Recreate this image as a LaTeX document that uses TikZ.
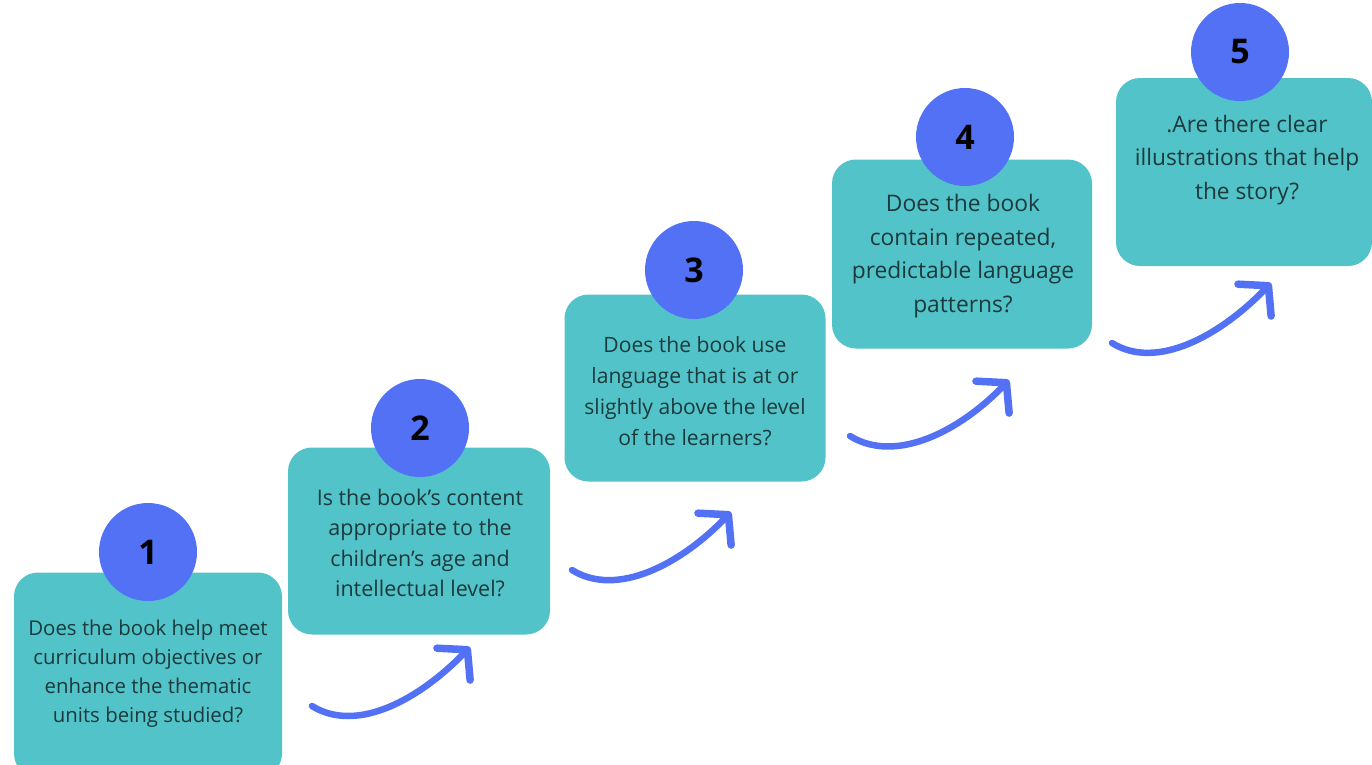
\documentclass[tikz,border=0pt]{standalone}
\usepackage{fontspec}
\setmainfont{Open Sans}
\usetikzlibrary{arrows.meta}
\definecolor{tealbox}{RGB}{82,195,201}
\definecolor{bluenum}{RGB}{82,113,245}
\definecolor{txt}{RGB}{28,58,60}
\begin{document}
\begin{tikzpicture}[x=1pt,y=-1pt,
  box/.style={fill=tealbox, rounded corners=24pt, inner sep=0pt},
  num/.style={circle, fill=bluenum, minimum size=98pt, inner sep=0pt,
    font=\fontsize{34}{36}\selectfont\bfseries},
  q/.style={text=txt, align=center, inner sep=0pt},
  arr/.style={draw=bluenum, line width=6.5pt, line cap=round,
    -{Straight Barb[length=20pt,width=46pt,round,line width=7.5pt]}}]
\useasboundingbox (0,0) rectangle (1372,764);
% boxes
\node[box, minimum width=268pt, minimum height=205pt] (b1) at (148,675) {};
\node[box, minimum width=262pt, minimum height=187pt] (b2) at (419,541) {};
\node[box, minimum width=261pt, minimum height=187pt] (b3) at (695,388) {};
\node[box, minimum width=260pt, minimum height=189pt] (b4) at (962,254) {};
\node[box, minimum width=256pt, minimum height=188pt] (b5) at (1244,172) {};
% circles
\node[num] (c1) at (148,552) {1};
\node[num] (c2) at (420,428) {2};
\node[num] (c3) at (694,270) {3};
\node[num] (c4) at (965,137) {4};
\node[num] (c5) at (1240,52) {5};
% texts
\node[q, font=\fontsize{20.4}{29}\selectfont] (t1) at (148,674) {Does the book help meet\\curriculum objectives or\\enhance the thematic\\units being studied?};
\node[q, font=\fontsize{21.5}{30.5}\selectfont] (t2) at (420,543) {Is the book’s content\\appropriate to the\\children’s age and\\intellectual level?};
\node[q, font=\fontsize{21.1}{31}\selectfont] (t3) at (695,391) {Does the book use\\language that is at or\\slightly above the level\\of the learners?};
\node[q, font=\fontsize{22.8}{33.5}\selectfont] (t4) at (963,256) {Does the book\\contain repeated,\\predictable language\\patterns?};
\node[q, font=\fontsize{22.7}{33.5}\selectfont] (t5) at (1247,160) {.Are there clear\\illustrations that help\\the story?};
% arrows
\coordinate (a1s) at (312,706); \coordinate (a1e) at (470,647);
\coordinate (a2s) at (572,570); \coordinate (a2e) at (731,512);
\coordinate (a3s) at (850,436); \coordinate (a3e) at (1009,380);
\coordinate (a4s) at (1112,343); \coordinate (a4e) at (1271,283);
\foreach \i in {1,2,3,4}
  \draw[arr] (a\i s) .. controls ++(45,28) and ++(-50,52) .. (a\i e);
\end{tikzpicture}
\end{document}
